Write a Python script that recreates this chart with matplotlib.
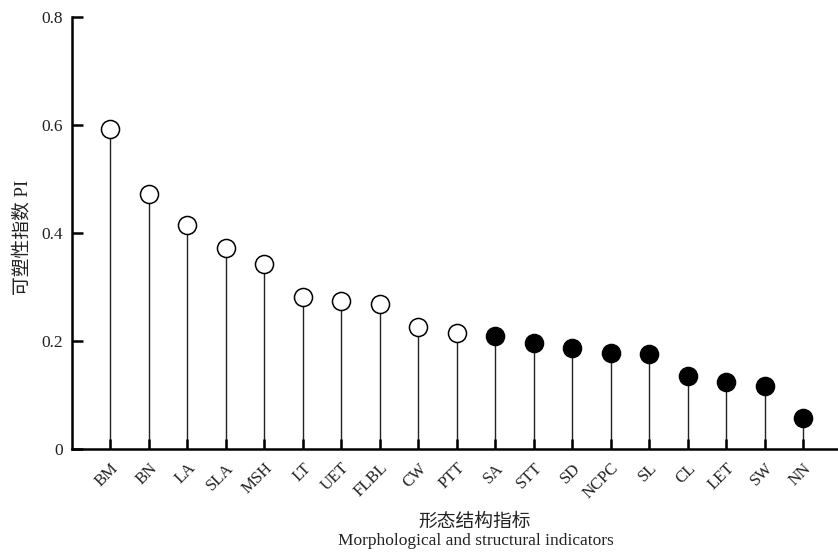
import numpy as np
import matplotlib.pyplot as plt

plt.rcParams['font.family'] = ['Liberation Serif', 'Noto Sans CJK SC']
plt.rcParams['axes.unicode_minus'] = False

# plasticity index for each morphological / structural trait
traits = ['BM', 'BN', 'LA', 'SLA', 'MSH', 'LT', 'UET', 'FLBL', 'CW', 'PTT',
          'SA', 'STT', 'SD', 'NCPC', 'SL', 'CL', 'LET', 'SW', 'NN']
pi = [0.592, 0.472, 0.415, 0.372, 0.343, 0.281, 0.274, 0.269, 0.226, 0.215,
      0.209, 0.196, 0.187, 0.178, 0.176, 0.135, 0.124, 0.117, 0.057]
# first group drawn hollow, second filled
hollow = [True] * 10 + [False] * 9

yticks = [0, 0.2, 0.4, 0.6, 0.8]
ylabels = ['0', '0.2', '0.4', '0.6', '0.8']

fig = plt.figure(figsize=(8.38, 5.54), dpi=100)
ax = fig.add_axes([0.0859, 0.1895, 0.9141, 0.7798])

x = np.arange(len(traits))
ax.vlines(x, 0, pi, color='#222222', lw=1.0, zorder=1)
for xi, v, h in zip(x, pi, hollow):
    ax.plot(xi, v, 'o', ms=13, mec='black', mew=1.1,
            mfc='white' if h else 'black', zorder=3)

ax.set_xlim(-1.0, 18.9)
ax.set_ylim(0, 0.8)
ax.set_yticks(yticks)
ax.set_yticklabels(ylabels, fontsize=12.5, color='#222222')
ax.set_xticks(x)
ax.set_xticklabels(traits, fontsize=12, rotation=45, ha='right',
                   rotation_mode='anchor', color='#222222')

ax.tick_params(axis='y', direction='in', length=8, width=1.8, pad=6.5)
ax.tick_params(axis='x', direction='in', length=7, width=1.8, pad=8)

for side in ['top', 'right']:
    ax.spines[side].set_visible(False)
for side in ['left', 'bottom']:
    ax.spines[side].set_linewidth(1.8)

fig.text(0.027, 0.572, '可塑性指数 PI', rotation=90, ha='center', va='center',
         fontsize=13.5, color='#222222')
fig.text(0.566, 0.058, '形态结构指标', ha='center', va='center',
         fontsize=13.5, color='#222222')
fig.text(0.568, 0.023, 'Morphological and structural indicators',
         ha='center', va='center', fontsize=12.5, color='#222222')

fig.savefig('out.png', dpi=100)
